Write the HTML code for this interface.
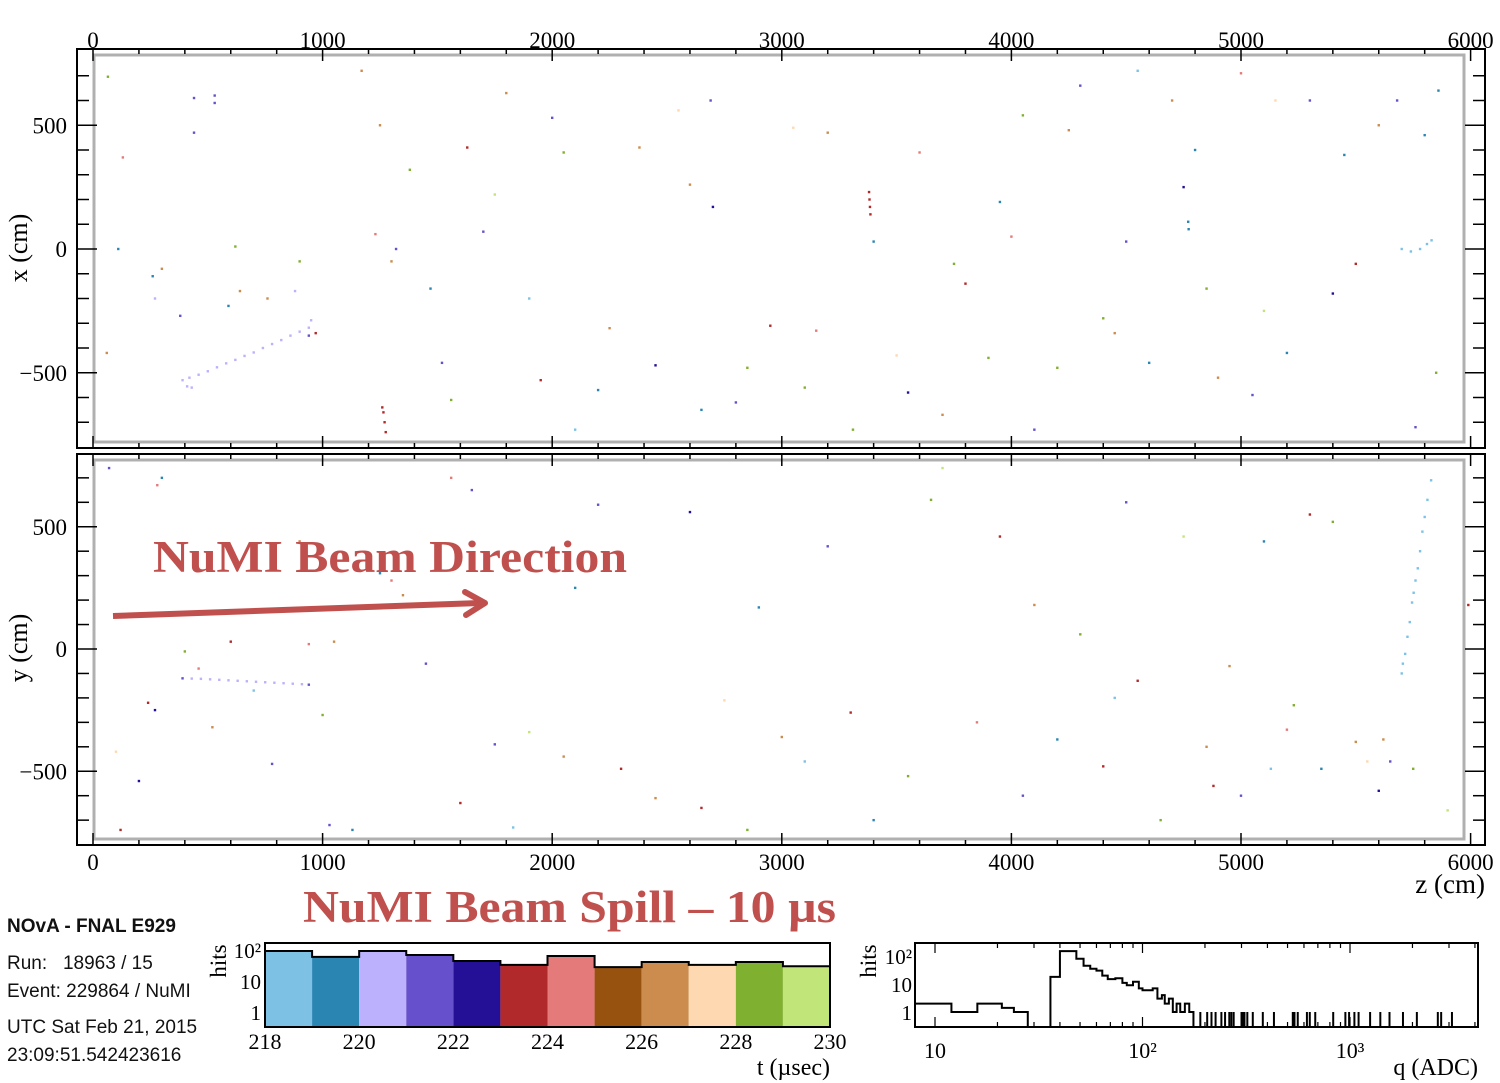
<!DOCTYPE html>
<html><head><meta charset="utf-8">
<style>
html,body{margin:0;padding:0;background:#fff;}
body{width:1500px;height:1083px;overflow:hidden;position:relative;font-family:"Liberation Serif",serif;}
svg{position:absolute;left:0;top:0;}
.info{position:absolute;left:7px;font-family:"Liberation Sans",sans-serif;font-size:19px;color:#111;white-space:nowrap;width:196px;overflow:hidden;}
</style></head>
<body>
<svg id="main" width="1500" height="1083" viewBox="0 0 1500 1083"></svg>
<div class="info" style="top:916px;font-weight:bold;">NOvA - FNAL E929</div>
<div class="info" style="top:953px;">Run:&nbsp;&nbsp; 18963 / 15</div>
<div class="info" style="top:981px;">Event: 229864 / NuMI</div>
<div class="info" style="top:1017px;">UTC Sat Feb 21, 2015</div>
<div class="info" style="top:1045px;">23:09:51.542423616</div>
<script>
// ---------- data ----------
const zTicks = [0,1000,2000,3000,4000,5000,6000];
const xTicks = [500,0,-500];
const yTicks = [500,0,-500];
const palette = ["#7dc2e5","#2b85b3","#bcb1fc","#6650cc","#241096","#b2292b","#e57a7a","#98520f","#cc8c4e","#fed8b0","#80b030","#c2e57a"];
// top view hits [z, x, colorIndex]
const xzHits = [[65,696,10],[130,370,6],[60,-420,8],[110,0,1],[270,-200,2],[380,-270,3],[260,-110,1],[300,-80,8],[440,610,3],[440,470,3],[530,620,3],[530,590,3],[620,10,10],[590,-230,1],[760,-200,8],[640,-170,8],[880,-170,2],[900,-50,10],[970,-340,5],[940,-350,3],[1170,720,8],[1250,500,8],[1230,60,6],[1300,-50,8],[1320,0,3],[1380,320,10],[1470,-160,1],[1520,-460,3],[1560,-610,10],[1630,410,5],[1700,70,3],[1750,220,11],[1800,630,8],[1900,-200,0],[1950,-530,5],[2000,530,3],[2050,390,10],[2100,-730,0],[2200,-570,1],[2250,-320,8],[2380,410,8],[2450,-470,4],[2550,560,9],[2600,260,8],[2650,-650,1],[2690,600,3],[2700,170,4],[2800,-620,3],[2850,-480,10],[2950,-310,5],[3050,490,9],[3100,-560,10],[3150,-330,6],[3200,470,8],[3310,-730,10],[3400,30,1],[3500,-430,9],[3550,-580,4],[3600,390,6],[3700,-670,8],[3750,-60,10],[3800,-140,5],[3900,-440,10],[3950,190,1],[4000,50,6],[4050,540,10],[4100,-730,3],[4200,-480,10],[4250,480,8],[4300,660,3],[4400,-280,10],[4450,-340,8],[4500,30,3],[4550,720,0],[4600,-460,1],[4700,600,8],[4750,250,4],[4800,400,1],[4850,-160,10],[4900,-520,8],[5000,710,6],[5050,-590,3],[5100,-250,11],[5150,600,9],[5200,-420,1],[5300,600,3],[5400,-180,4],[5450,380,1],[5500,-60,5],[5600,500,8],[5680,600,3],[5760,-720,3],[5800,460,1],[5850,-500,10],[5860,640,1]];
// x-z tracks [z, x, colorIndex]
const xzTrack = [[390,-530,2],[420,-520,2],[460,-508,2],[500,-494,2],[540,-478,2],[580,-462,2],[620,-448,2],[660,-432,2],[700,-418,2],[740,-400,2],[780,-384,2],[820,-368,2],[860,-350,2],[900,-334,2],[940,-318,2],[950,-288,2],[410,-555,2],[430,-560,2],[1260,-640,5],[1265,-660,5],[1270,-700,5],[1275,-740,5],[3380,230,5],[3382,200,5],[3384,170,5],[3386,140,5],[5700,0,0],[5740,-10,0],[5780,0,0],[5810,20,0],[5830,35,0],[4770,110,1],[4772,80,1]];
// y-z hits [z, y, colorIndex]
const yzHits = [[70,740,3],[120,-740,5],[100,-420,9],[200,-540,4],[240,-220,5],[270,-250,4],[280,670,6],[300,700,1],[400,-10,10],[460,-80,6],[520,-320,8],[600,30,5],[700,-170,0],[780,-470,3],[900,440,8],[940,20,6],[1000,-270,10],[1030,-720,3],[1050,30,8],[1130,-740,1],[1250,310,1],[1300,280,6],[1350,220,8],[1450,-60,3],[1560,700,6],[1600,-630,5],[1650,650,3],[1750,-390,3],[1830,-730,0],[1900,-340,11],[2050,-440,8],[2100,250,1],[2200,590,3],[2300,-490,5],[2450,-610,8],[2600,560,4],[2650,-650,5],[2750,-210,9],[2850,-740,10],[2900,170,1],[3000,-360,8],[3100,-460,0],[3200,420,3],[3300,-260,5],[3400,-700,1],[3550,-520,10],[3650,610,10],[3700,740,11],[3850,-300,6],[3950,460,5],[4050,-600,3],[4100,180,8],[4200,-370,1],[4300,60,10],[4400,-480,5],[4450,-200,0],[4500,600,3],[4550,-130,5],[4650,-700,10],[4750,460,11],[4850,-400,8],[4880,-560,5],[4950,-70,8],[5000,-600,3],[5100,440,1],[5130,-490,0],[5200,-330,6],[5230,-230,10],[5300,550,5],[5350,-490,1],[5400,520,10],[5500,-380,8],[5550,-460,9],[5600,-580,4],[5620,-370,8],[5650,-460,3],[5750,-490,10],[5900,-660,11],[5990,180,5]];
// y-z tracks
const yzTrack = [[390,-120,3],[430,-121,2],[470,-122,2],[510,-124,2],[550,-126,2],[590,-128,2],[630,-130,2],[670,-132,2],[710,-134,2],[750,-136,2],[790,-138,2],[830,-140,2],[870,-142,2],[910,-144,2],[940,-146,3],[5700,-100,0],[5705,-60,0],[5715,-20,0],[5725,50,0],[5735,110,0],[5745,190,0],[5752,230,0],[5760,280,0],[5770,330,0],[5780,400,0],[5790,480,0],[5800,540,0],[5812,610,0],[5828,690,0]];
// time histogram
const tEdges = [218,219,220,221,222,223,224,225,226,227,228,229,230];
const tCounts = [93,60,93,69,44,33,64,28,41,33,41,30];
const tTickLabels = ["218","220","222","224","226","228","230"];
// charge histogram (bin edges in ADC, counts)
const qEdges = [8,12,16,21,24,28,36,40,48,52,56,60,64,68,74,80,84,90,96,100,106,112,118,124,128,134,140,146,152,160,168,176,184];
const qCounts = [2,1,2,1.4,1,0,18,150,80,45,35,30,20,15,16,11,9,12,7,6,6,7,3,4,2,3,1,2,1,2,1,0];
const qSpikes = [190,205,215,225,240,250,262,268,275,300,305,310,320,340,380,430,530,540,560,620,640,680,830,950,990,1050,1100,1250,1400,1550,1800,2100,2650,2750,3100];

// ---------- helpers ----------
const NS="http://www.w3.org/2000/svg";
const svg=document.getElementById('main');
function mk(tag,attrs,parent){const e=document.createElementNS(NS,tag);for(const k in attrs)e.setAttribute(k,attrs[k]);(parent||svg).appendChild(e);return e;}
const zs = z => 93 + z*0.2296;
const xsTop = x => 249 - x*0.2475;
const ysBot = y => 649 - y*0.2445;
const L=77,R=1485;

function panel(top,bottom,yfun,ticks,label,lblY,hits,track,name){
  const g=mk('g',{});
  
  
  const inner=mk('rect',{x:94,y:top+6,width:1370,height:bottom-top-12,fill:'none',stroke:'#b0b0b0','stroke-width':3},g);
  
  
  const fr=mk('rect',{x:L,y:top,width:R-L,height:bottom-top,fill:'none',stroke:'#000','stroke-width':2},g);
  
  
  for(let z=0;z<=6000;z+=200){
    const len=(z%1000===0)?12:5;const X=zs(z);
    mk('line',{x1:X,y1:top,x2:X,y2:top+len,stroke:'#000','stroke-width':1.5},g);
    mk('line',{x1:X,y1:bottom,x2:X,y2:bottom-len,stroke:'#000','stroke-width':1.5},g);
  }
  for(let v=-700;v<=700;v+=100){
    const len=(v%500===0)?20:12;const Y=yfun(v);
    mk('line',{x1:L,y1:Y,x2:L+len,y2:Y,stroke:'#000','stroke-width':1.5},g);
    mk('line',{x1:R,y1:Y,x2:R-len,y2:Y,stroke:'#000','stroke-width':1.5},g);
  }
  ticks.forEach(v=>{
    const t=mk('text',{x:L-10,y:yfun(v)+8,'text-anchor':'end','font-size':23,'font-family':'Liberation Serif, serif'},g);
    t.textContent=(v<0?'\u2212':'')+Math.abs(v);
    
    
  });
  const al=mk('text',{x:0,y:0,transform:`translate(27,${lblY}) rotate(-90)`,'text-anchor':'middle','font-size':26,'font-family':'Liberation Serif, serif'},g);
  al.textContent=label;
  
  
  hits.concat(track).forEach(h=>{
    const c=mk('rect',{x:zs(h[0])-1.2,y:yfun(h[1])-1.2,width:2.4,height:2.4,fill:palette[h[2]]},g);
    
    
  });
}
panel(49,448,xsTop,xTicks,'x (cm)',248,xzHits,xzTrack,'xz-view');
panel(454,845,ysBot,yTicks,'y (cm)',648,yzHits,yzTrack,'yz-view');
zTicks.forEach(z=>{
  [40,870].forEach(Y=>{
    const t=mk('text',{x:zs(z),y:Y+(Y<100?8:0),'text-anchor':'middle','font-size':23,'font-family':'Liberation Serif, serif'});
    t.textContent=z;
    
    
  });
});
const zl=mk('text',{x:1485,y:893,'text-anchor':'end','font-size':27,'font-family':'Liberation Serif, serif'});
zl.textContent='z (cm)';



// annotations
const a1=mk('text',{x:153,y:572,'font-size':45,'font-weight':'bold',fill:'#c0504d','font-family':'Liberation Serif, serif',textLength:474,lengthAdjust:'spacingAndGlyphs'});
a1.textContent='NuMI Beam Direction';


const ar=mk('line',{x1:113,y1:616,x2:480,y2:603,stroke:'#c0504d','stroke-width':6});


mk('polyline',{points:'465,592 485,603 466,615',fill:'none',stroke:'#c0504d','stroke-width':6,'stroke-linecap':'round','stroke-linejoin':'round'});
const a2=mk('text',{x:303,y:922,'font-size':45,'font-weight':'bold',fill:'#c0504d','font-family':'Liberation Serif, serif',textLength:533,lengthAdjust:'spacingAndGlyphs'});
a2.textContent='NuMI Beam Spill \u2013 10 \u00b5s';



// time histogram
const tL=265,tR=830,hT=943,hB=1027;
const tx=t=>tL+(t-218)/12*(tR-tL);
const ty=v=>1012-Math.log10(v)*31;
tCounts.forEach((v,i)=>{
  const b=mk('rect',{x:tx(tEdges[i]),y:ty(v),width:tx(tEdges[i+1])-tx(tEdges[i]),height:hB-ty(v),fill:palette[i]});
  
  
});
let tp='M'+tx(tEdges[0])+','+hB;
tCounts.forEach((v,i)=>{tp+=' L'+tx(tEdges[i])+','+ty(v)+' L'+tx(tEdges[i+1])+','+ty(v);});
tp+=' L'+tx(tEdges[tEdges.length-1])+','+hB;
mk('path',{d:tp,fill:'none',stroke:'#000','stroke-width':2});
const tf=mk('rect',{x:tL,y:hT,width:tR-tL,height:hB-hT,fill:'none',stroke:'#000','stroke-width':2});


tTickLabels.forEach(s=>{
  const t=mk('text',{x:tx(+s),y:1049,'text-anchor':'middle','font-size':22,'font-family':'Liberation Serif, serif'});
  t.textContent=s;
  
  
});
function logLabels(x,fn,name){
  [[1,'1'],[10,'10'],[100,'10²']].forEach(([v,s])=>{
    const t=mk('text',{x:x,y:fn(v)+8,'text-anchor':'end','font-size':21,'font-family':'Liberation Serif, serif'});
    t.textContent=s;
    
    
  });
}
logLabels(tL-4,ty,'hits-tick-label');
const th=mk('text',{x:0,y:0,transform:'translate(226,961) rotate(-90)','text-anchor':'middle','font-size':23,'font-family':'Liberation Serif, serif'});
th.textContent='hits';


const tt=mk('text',{x:830,y:1075,'text-anchor':'end','font-size':24,'font-family':'Liberation Serif, serif'});
tt.textContent='t (\u00b5sec)';



// charge histogram
const qL=915,qR=1478;
const qx=q=>935+(Math.log10(q)-1)*207.5;
const qy=v=>v<=0?hB:1012-Math.log10(v)*28;
let qp='M'+qx(qEdges[0])+','+qy(qCounts[0]);
qCounts.forEach((v,i)=>{qp+=' L'+qx(qEdges[i])+','+qy(v)+' L'+qx(qEdges[i+1])+','+qy(v);});
const qpath=mk('path',{d:qp,fill:'none',stroke:'#000','stroke-width':2});


qSpikes.forEach(q=>{
  const s=mk('line',{x1:qx(q),y1:qy(1),x2:qx(q),y2:hB,stroke:'#000','stroke-width':2});
  
  
});
mk('line',{x1:qL,y1:hB,x2:qR,y2:hB,stroke:'#000','stroke-width':2});
const qf=mk('rect',{x:qL,y:hT,width:qR-qL,height:hB-hT,fill:'none',stroke:'#000','stroke-width':2});


logLabels(qL-3,qy,'charge-hits-tick-label');
[[10,'10'],[100,'10²'],[1000,'10³']].forEach(([v,s])=>{
  const t=mk('text',{x:qx(v),y:1058,'text-anchor':'middle','font-size':22,'font-family':'Liberation Serif, serif'});
  t.textContent=s;
  
  
});
for(let d=1;d<=3;d++)for(let m=1;m<10;m++){const v=m*Math.pow(10,d);if(v<8||v>4100)continue;const X=qx(v);const len=m===1?10:5;
  mk('line',{x1:X,y1:hB,x2:X,y2:hB-len,stroke:'#000','stroke-width':1.2});mk('line',{x1:X,y1:hT,x2:X,y2:hT+len,stroke:'#000','stroke-width':1.2});}
const qh=mk('text',{x:0,y:0,transform:'translate(876,961) rotate(-90)','text-anchor':'middle','font-size':23,'font-family':'Liberation Serif, serif'});
qh.textContent='hits';


const qt=mk('text',{x:1478,y:1075,'text-anchor':'end','font-size':24,'font-family':'Liberation Serif, serif'});
qt.textContent='q (ADC)';


</script>
</body></html>
